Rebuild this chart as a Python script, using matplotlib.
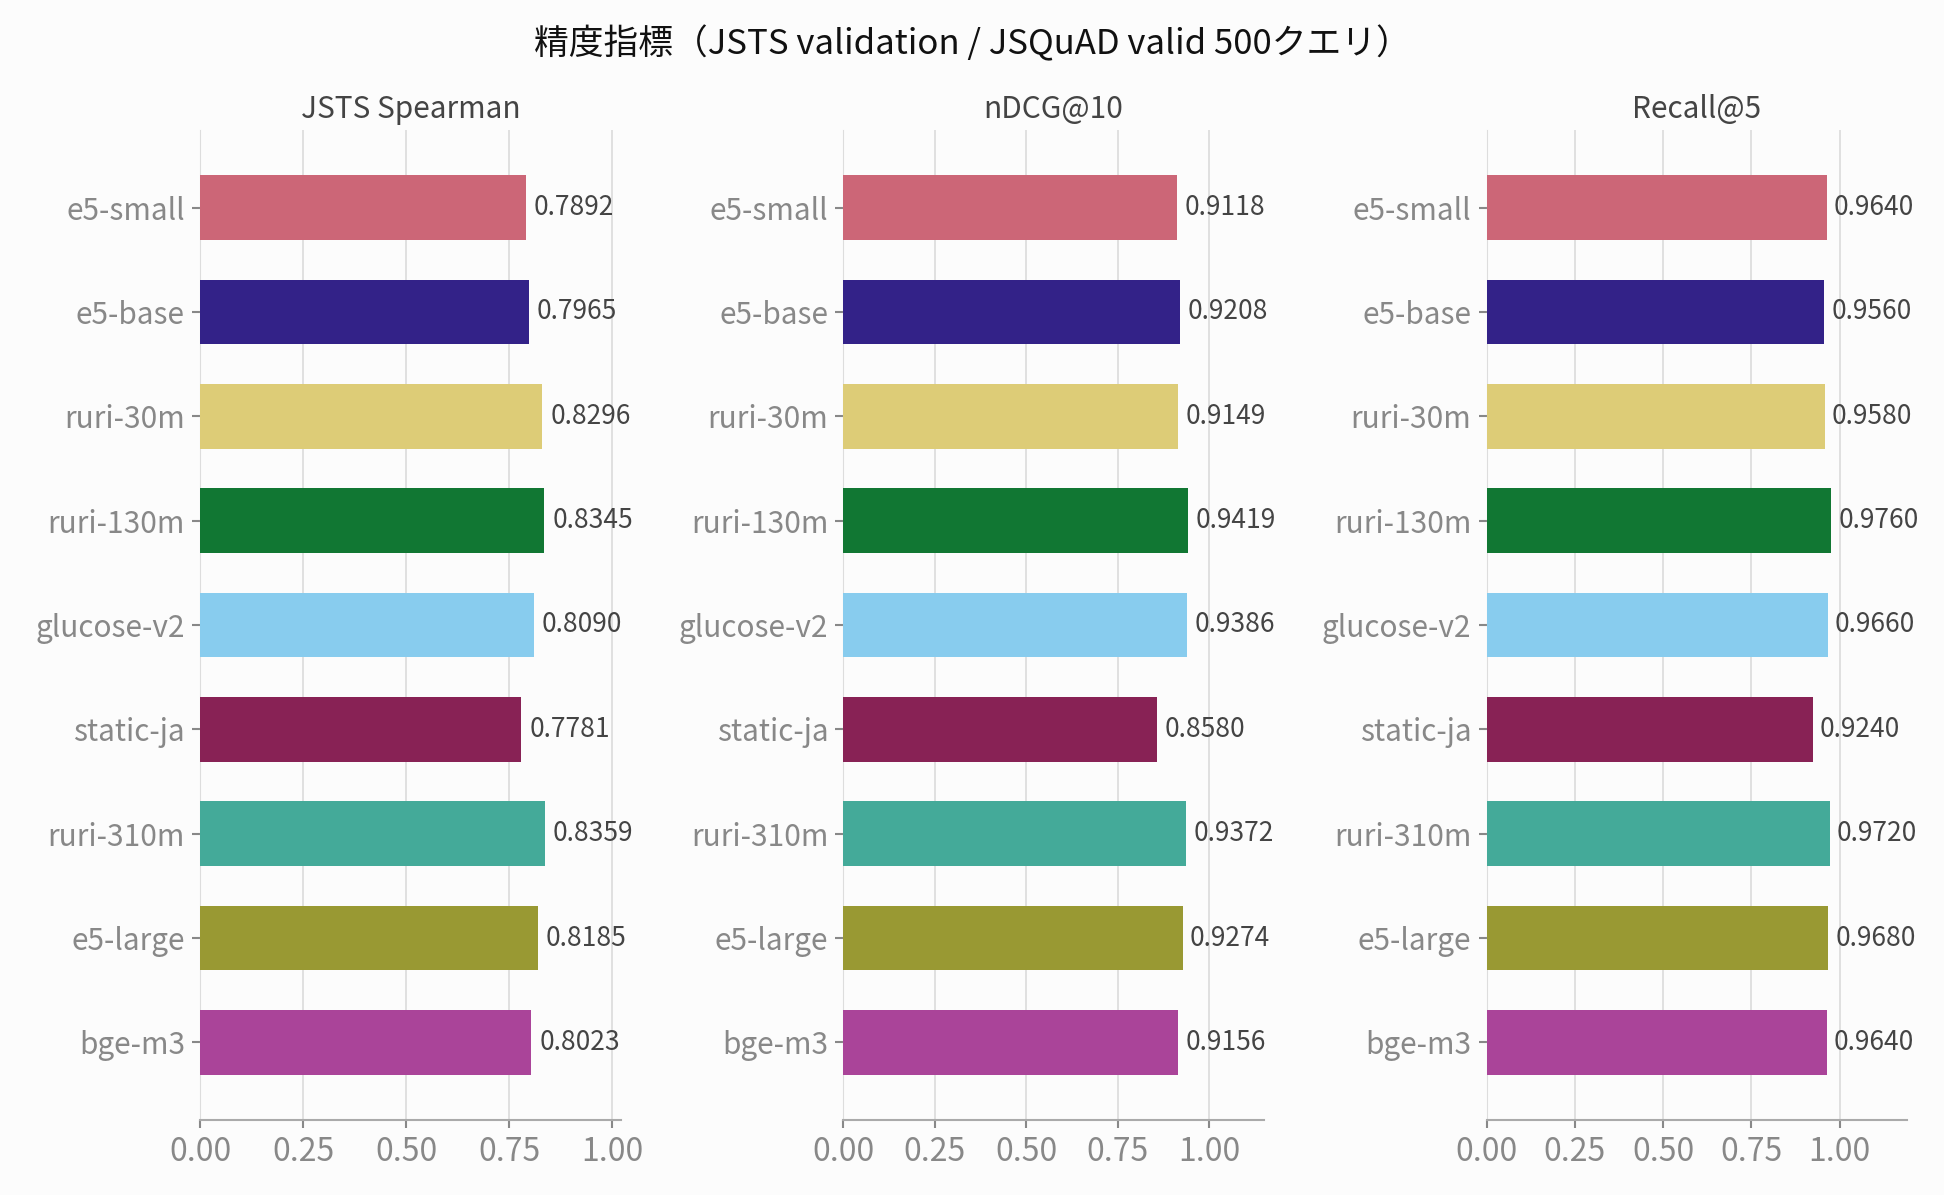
import matplotlib
matplotlib.use('Agg')
import matplotlib.pyplot as plt

plt.rcParams['font.family'] = ['Noto Sans CJK JP', 'DejaVu Sans']

models = ['e5-small', 'e5-base', 'ruri-30m', 'ruri-130m', 'glucose-v2',
          'static-ja', 'ruri-310m', 'e5-large', 'bge-m3']
jsts_spearman = [0.7892, 0.7965, 0.8296, 0.8345, 0.8090, 0.7781, 0.8359, 0.8185, 0.8023]
ndcg10 = [0.9118, 0.9208, 0.9149, 0.9419, 0.9386, 0.8580, 0.9372, 0.9274, 0.9156]
recall5 = [0.9640, 0.9560, 0.9580, 0.9760, 0.9660, 0.9240, 0.9720, 0.9680, 0.9640]
metric_names = ['JSTS Spearman', 'nDCG@10', 'Recall@5']
colors = ['#CC6677', '#332288', '#DDCC77', '#117733', '#88CCEE',
          '#882255', '#44AA99', '#999933', '#AA4499']
ticks = [0.0, 0.25, 0.5, 0.75, 1.0]

bg = '#fcfcfc'
fig, axes = plt.subplots(1, 3, figsize=(19.44, 11.95), dpi=100, facecolor=bg)
fig.subplots_adjust(left=0.103, right=0.981, top=0.891, bottom=0.063, wspace=0.53)

for ax, name, vals in zip(axes, metric_names, [jsts_spearman, ndcg10, recall5]):
    ax.set_facecolor(bg)
    ypos = range(len(models))
    ax.barh(ypos, vals, height=0.62, color=colors, zorder=3)
    for y, v in zip(ypos, vals):
        ax.text(v + 0.02, y, '{:.4f}'.format(v), va='center', ha='left',
                fontsize=19, color='#444444', zorder=4)
    ax.set_yticks(list(ypos))
    ax.set_yticklabels(models)
    ax.invert_yaxis()
    ax.set_xlim(0, max(vals) * 1.22)
    ax.set_xticks(ticks)
    ax.set_xticklabels(['{:.2f}'.format(t) for t in ticks])
    ax.set_title(name, fontsize=21.5, color='#444444', pad=9)
    ax.grid(axis='x', color='#dddddd', linewidth=1.3, zorder=0)
    ax.grid(axis='y', visible=False)
    for s in ['top', 'right']:
        ax.spines[s].set_visible(False)
    ax.spines['left'].set_color('#dddddd')
    ax.spines['bottom'].set_color('#aaaaaa')
    ax.spines['bottom'].set_linewidth(1.5)
    ax.tick_params(axis='x', colors='#888888', labelsize=23, length=6, width=1.5, pad=6)
    ax.tick_params(axis='y', colors='#888888', labelsize=21.5, length=6, width=1.5, pad=5)

fig.suptitle('精度指標（JSTS validation / JSQuAD valid 500クエリ）',
             fontsize=25, color='#111111', x=0.5, y=0.978)

fig.savefig('out.png', dpi=100, facecolor=bg)
